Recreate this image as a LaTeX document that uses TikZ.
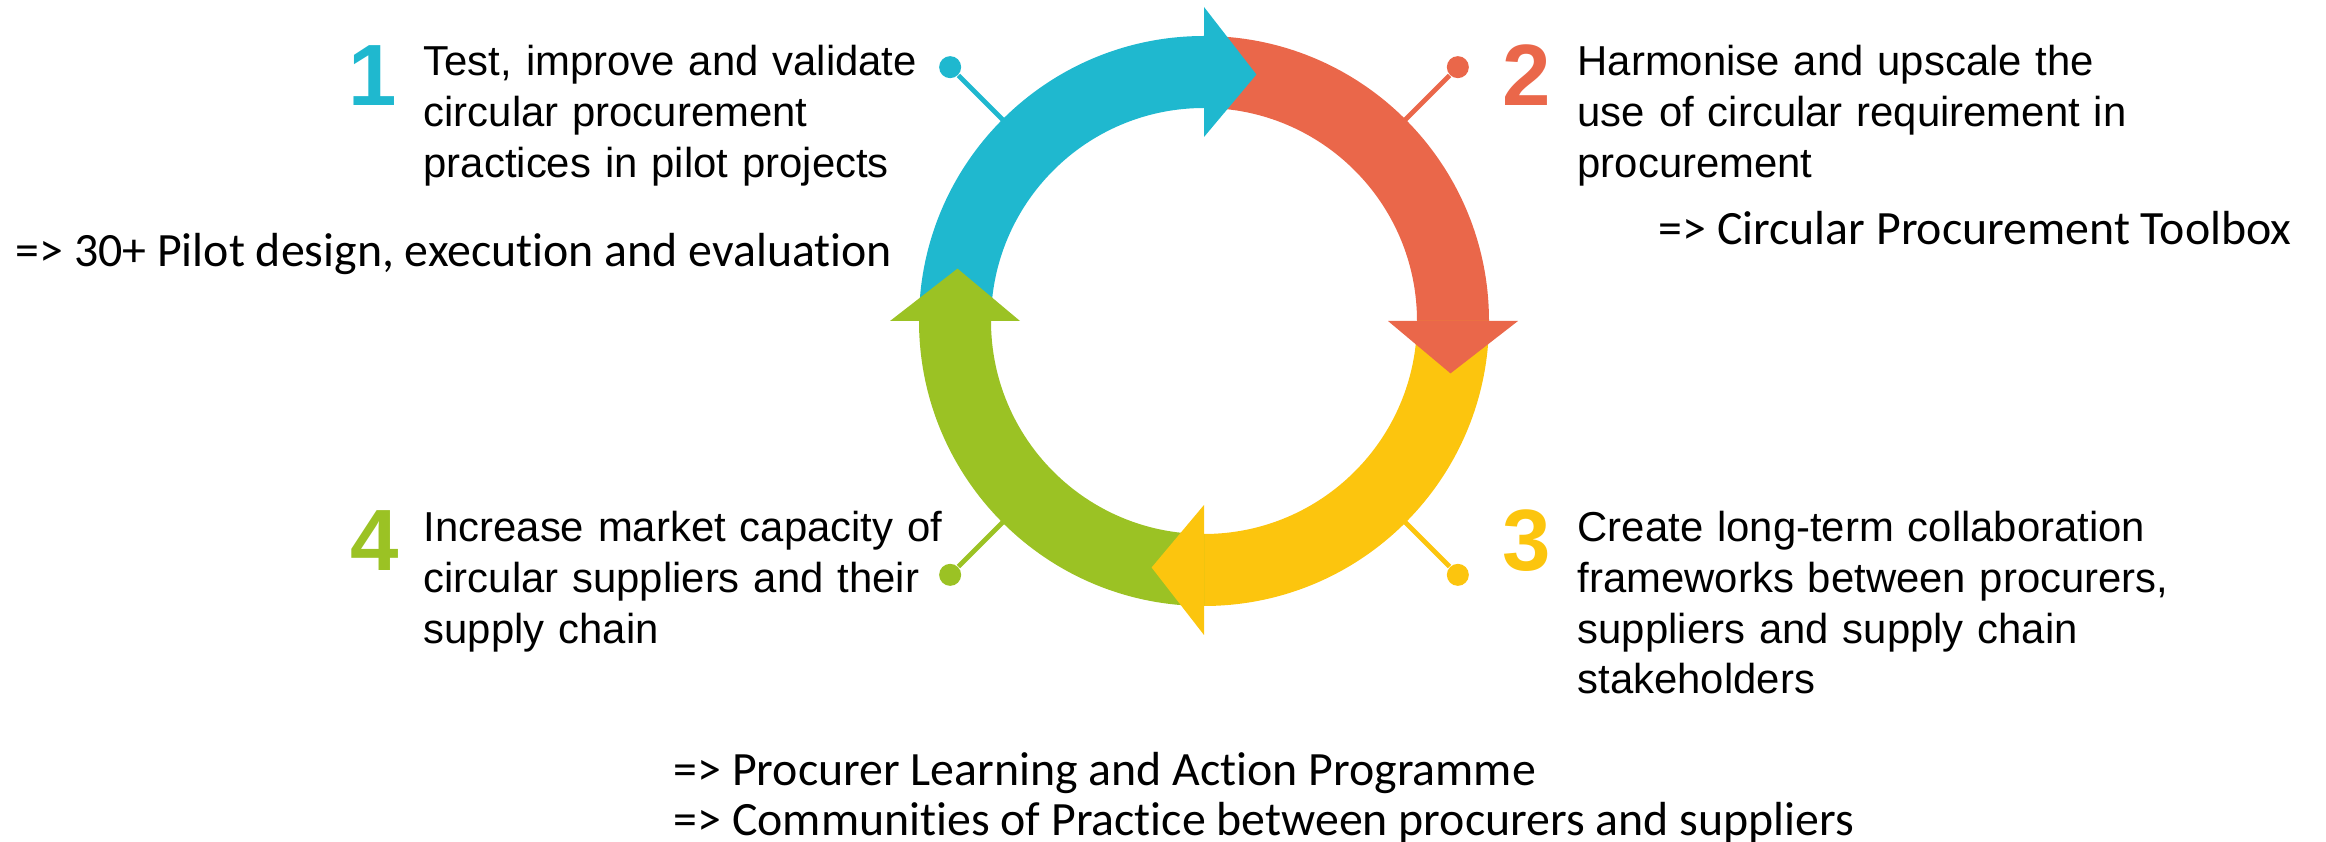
\documentclass[tikz,border=0pt]{standalone}
\usepackage{fontspec}
\setmainfont{Liberation Sans}
\newfontfamily\calibrifont[Ligatures={TeX,NoCommon}]{Carlito}
\definecolor{cyanC}{HTML}{1FB8CF}
\definecolor{orangeC}{HTML}{EA674A}
\definecolor{yellowC}{HTML}{FCC50E}
\definecolor{greenC}{HTML}{9BC224}
\begin{document}
\begin{tikzpicture}[x=0.01cm,y=0.01cm,
  body/.style={anchor=base west, inner sep=0pt, align=left, text width=7cm, font=\fontsize{11.9}{14.4}\selectfont},
  digit/.style={anchor=base, inner sep=0pt, font=\fontsize{24.75}{28}\selectfont\bfseries},
  note/.style={anchor=base west, inner sep=0pt, font=\calibrifont\fontsize{13.6}{16}\selectfont},
  pindot/.style={circle, inner sep=0pt, minimum size=0.22cm},
  pinline/.style={line width=1.4pt}]
\useasboundingbox (0,0) rectangle (2326,842);

\begin{scope}[shift={(1204,521)}]
  % pins
  \node[pindot, fill=cyanC] (d1) at (135:359) {};
  \node[pindot, fill=orangeC] (d2) at (45:359) {};
  \node[pindot, fill=yellowC] (d3) at (-45:359) {};
  \node[pindot, fill=greenC] (d4) at (-135:359) {};
  \coordinate (e1) at (135:280);
  \coordinate (e2) at (45:280);
  \coordinate (e3) at (-45:280);
  \coordinate (e4) at (-135:280);
  \draw[pinline, cyanC] (d1) -- (e1);
  \draw[pinline, orangeC] (d2) -- (e2);
  \draw[pinline, yellowC] (d3) -- (e3);
  \draw[pinline, greenC] (d4) -- (e4);
  % ring segments
  \fill[cyanC] (180:285) arc[start angle=180,end angle=90,radius=285] -- (90:213) arc[start angle=90,end angle=180,radius=213] -- cycle;
  \fill[orangeC] (90:285) arc[start angle=90,end angle=0,radius=285] -- (0:213) arc[start angle=0,end angle=90,radius=213] -- cycle;
  \fill[yellowC] (0:285) arc[start angle=0,end angle=-90,radius=285] -- (-90:213) arc[start angle=-90,end angle=0,radius=213] -- cycle;
  \fill[greenC] (-90:285) arc[start angle=-90,end angle=-180,radius=285] -- (-180:213) arc[start angle=-180,end angle=-90,radius=213] -- cycle;
  % arrow heads
  \fill[cyanC] (90:314) -- (78:252) -- (90:184) -- cycle;
  \fill[orangeC] (0:314) -- (-12:252) -- (0:184) -- cycle;
  \fill[yellowC] (-90:314) -- (-102:252) -- (-90:184) -- cycle;
  \fill[greenC] (180:314) -- (168:252) -- (180:184) -- cycle;
\end{scope}

% digits
\node[digit, text=cyanC] (n1) at (373,736) {1};
\node[digit, text=orangeC] (n2) at (1527,736) {2};
\node[digit, text=yellowC] (n3) at (1527,271) {3};
\node[digit, text=greenC] (n4) at (375,271) {4};

% text blocks
\node[body] (t1) at (423,766) {Test, improve and validate\\circular procurement\\practices in pilot projects};
\node[body] (t2) at (1577,766) {Harmonise and upscale the\\use of circular requirement in\\procurement};
\node[body] (t3) at (1577,300) {Create long-term collaboration\\frameworks between procurers,\\suppliers and supply chain\\stakeholders};
\node[body] (t4) at (423,300) {Increase market capacity of\\circular suppliers and their\\supply chain};

% outcome notes
\node[note] (o1) at (15,575) {=> 30+ Pilot design, execution and evaluation};
\node[note] (o2) at (1658,597) {=> Circular Procurement Toolbox};
\node[note] (o3) at (673,57) {=> Procurer Learning and Action Programme};
\node[note] (o4) at (673,6) {=> Communities of Practice between procurers and suppliers};
\end{tikzpicture}
\end{document}
